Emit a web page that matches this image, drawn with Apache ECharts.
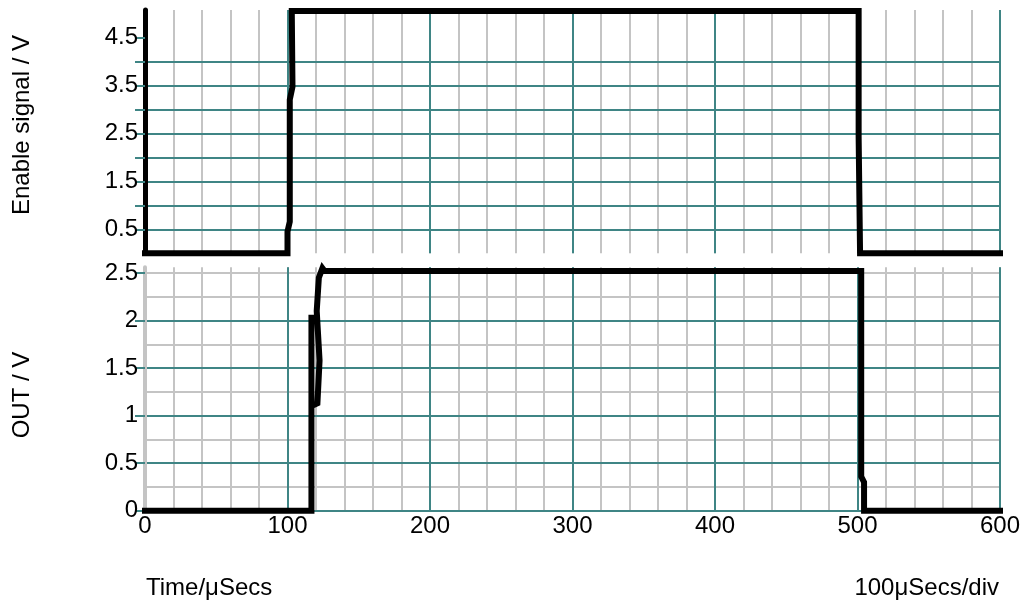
<!DOCTYPE html>
<html>
<head>
<meta charset="utf-8">
<style>html,body{margin:0;padding:0;background:#fff}#c{width:1024px;height:606px}</style>
<script src="https://cdn.jsdelivr.net/npm/echarts@6/dist/echarts.min.js"></script>
</head>
<body>
<div id="c"></div>
<script>
// ---- data ----
var enableTime = [0, 100, 100, 101.6, 101.6, 103.5, 103, 500.8, 500.8, 501.8, 501.8, 600];
var enableVolt = [0, 0, 0.45, 0.66, 3.2, 3.47, 5.05, 5.05, 2.43, 2.43, 0, 0];
var outTime = [0, 116.8, 116.8, 116.8, 121, 122.5, 120.5, 122, 124.5, 126, 502.6, 502.6, 504.6, 504.6, 600];
var outVolt = [0, 0, 2.06, 1.1, 1.13, 1.58, 2.1, 2.45, 2.55, 2.52, 2.52, 0.36, 0.3, 0, 0];
var timeTickLabels = [0, 100, 200, 300, 400, 500, 600];
var enableTicks = [0.5, 1, 1.5, 2, 2.5, 3, 3.5, 4, 4.5];
var enableTickLabels = [0.5, 1.5, 2.5, 3.5, 4.5];
var outTicks = [0, 0.5, 1, 1.5, 2, 2.5];
var outTickLabels = [0, 0.5, 1, 1.5, 2, 2.5];

var TEAL = '#3f8585', GRAY = '#c4c4c4', FONT = 'Liberation Sans, Arial, sans-serif';
function pairs(xs, ys) { return xs.map(function (x, i) { return [x, ys[i]]; }); }

var chart = echarts.init(document.getElementById('c'), null, {renderer: 'canvas'});
var lbl = {color: '#000', fontSize: 24, fontFamily: FONT};
var option = {
  animation: false,
  backgroundColor: '#fff',
  grid: [
    {left: 145, right: 24, top: 10, height: 243.3},
    {left: 145, right: 24, top: 267.3, height: 243.4}
  ],
  xAxis: [
    {type: 'value', gridIndex: 0, min: 0, max: 600, interval: 100, position: 'bottom', z: 1,
     axisLine: {show: false}, axisTick: {show: false}, axisLabel: {show: false},
     splitLine: {show: true, lineStyle: {color: TEAL, width: 2}}},
    {type: 'value', gridIndex: 0, min: 0, max: 600, interval: 20, position: 'bottom', z: 0,
     axisLine: {show: false}, axisTick: {show: false}, axisLabel: {show: false},
     splitLine: {show: true, lineStyle: {color: GRAY, width: 2}}},
    {type: 'value', gridIndex: 1, min: 0, max: 600, interval: 100, position: 'bottom', z: 1,
     axisLine: {show: true, onZero: false, lineStyle: {color: TEAL, width: 2}}, axisTick: {show: false},
     axisLabel: Object.assign({margin: 4, customValues: timeTickLabels}, lbl),
     splitLine: {show: true, lineStyle: {color: TEAL, width: 2}}},
    {type: 'value', gridIndex: 1, min: 0, max: 600, interval: 20, position: 'bottom', z: 0,
     axisLine: {show: false}, axisTick: {show: false}, axisLabel: {show: false},
     splitLine: {show: true, lineStyle: {color: GRAY, width: 2}}}
  ],
  yAxis: [
    {type: 'value', gridIndex: 0, min: 0, max: 5.07, interval: 0.5, position: 'left', z: 1,
     axisLine: {show: true, onZero: false, lineStyle: {color: '#000', width: 5}},
     axisTick: {show: true, length: 10, customValues: enableTicks, lineStyle: {color: TEAL, width: 2}},
     axisLabel: Object.assign({margin: 7, customValues: enableTickLabels, padding: [5, 0, 0, 0]}, lbl),
     splitLine: {show: true, showMaxLine: false, lineStyle: {color: TEAL, width: 2}}},
    {type: 'value', gridIndex: 1, min: 0, max: 2.56, interval: 0.5, position: 'left', z: 1,
     axisLine: {show: true, onZero: false, lineStyle: {color: GRAY, width: 4}},
     axisTick: {show: true, length: 10, customValues: outTicks, lineStyle: {color: TEAL, width: 2}},
     axisLabel: Object.assign({margin: 7, customValues: outTickLabels, padding: [5, 0, 0, 0]}, lbl),
     splitLine: {show: true, showMaxLine: false, lineStyle: {color: TEAL, width: 2}}},
    {type: 'value', gridIndex: 1, min: 0, max: 2.56, interval: 0.25, position: 'left', z: 0,
     axisLine: {show: false}, axisTick: {show: false}, axisLabel: {show: false},
     splitLine: {show: true, showMaxLine: false, showMinLine: false, lineStyle: {color: GRAY, width: 2}}}
  ],
  series: [
    {type: 'line', xAxisIndex: 0, yAxisIndex: 0, data: pairs(enableTime, enableVolt),
     symbol: 'none', clip: false, z: 5,
     lineStyle: {color: '#000', width: 6, cap: 'square', join: 'miter'}},
    {type: 'line', xAxisIndex: 2, yAxisIndex: 1, data: pairs(outTime, outVolt),
     symbol: 'none', clip: false, z: 5,
     lineStyle: {color: '#000', width: 6, cap: 'square', join: 'miter'}}
  ],
  graphic: [
    {type: 'text', rotation: Math.PI / 2, x: 22, y: 125,
     style: {text: 'Enable signal / V', fill: '#000', font: '24px ' + FONT, align: 'center', verticalAlign: 'middle'}},
    {type: 'text', rotation: Math.PI / 2, x: 22, y: 395,
     style: {text: 'OUT / V', fill: '#000', font: '24px ' + FONT, align: 'center', verticalAlign: 'middle'}},
    {type: 'text', x: 146, y: 588,
     style: {text: 'Time/μSecs', fill: '#000', font: '24px ' + FONT, align: 'left', verticalAlign: 'middle'}},
    {type: 'text', x: 999, y: 588,
     style: {text: '100μSecs/div', fill: '#000', font: '24px ' + FONT, align: 'right', verticalAlign: 'middle'}}
  ]
};
chart.setOption(option);
</script>
</body>
</html>
